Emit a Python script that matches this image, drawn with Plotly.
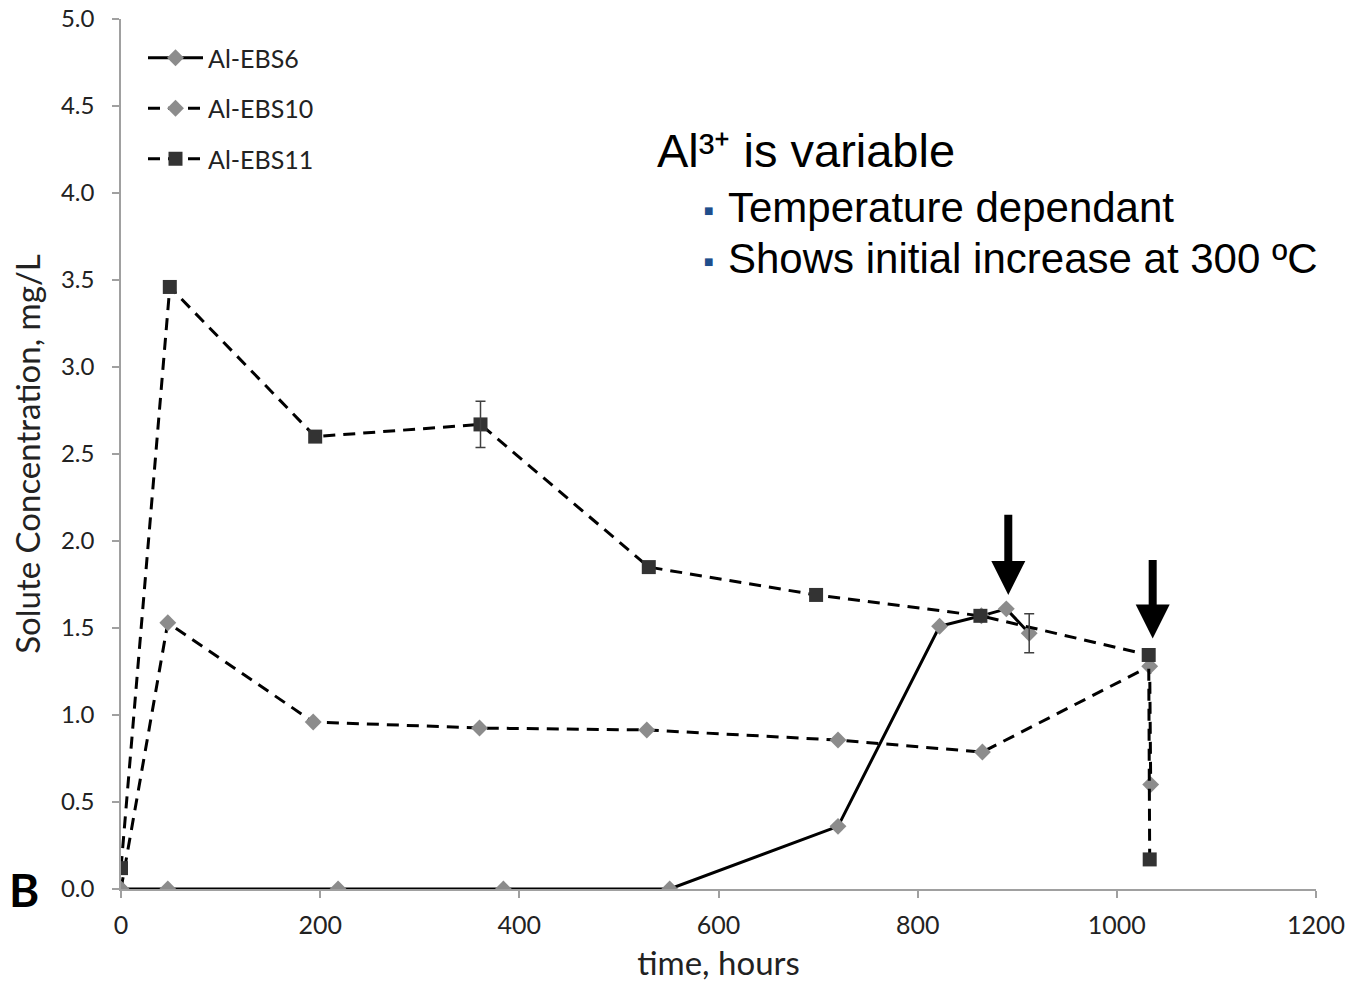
import plotly.graph_objects as go

# ---- data ----
ebs6_x = [0, 47, 218, 384, 551, 720, 822, 864, 889, 912]
ebs6_y = [0.0, 0.0, 0.0, 0.0, 0.0, 0.36, 1.51, 1.57, 1.61, 1.47]

ebs10_x = [0, 47, 193, 360, 528, 720, 865, 1033, 1034]
ebs10_y = [0.0, 1.53, 0.96, 0.925, 0.914, 0.856, 0.787, 1.28, 0.60]

ebs11_x = [0, 49, 195, 361, 530, 698, 863, 1032, 1033]
ebs11_y = [0.12, 3.46, 2.60, 2.67, 1.85, 1.69, 1.57, 1.345, 0.17]

# error bars (only points that have them)
err11_x = [361]
err11_y = [2.67]
err11_e = [0.133]
err6_x = [912]
err6_y = [1.47]
err6_e = [0.112]

# arrows: (x, tip y, tail y)
arrow_x = [891, 1036]
arrow_tip = [1.69, 1.44]
arrow_tail = [2.16, 1.90]

x_ticks = [0, 200, 400, 600, 800, 1000, 1200]
y_ticks = [0.0, 0.5, 1.0, 1.5, 2.0, 2.5, 3.0, 3.5, 4.0, 4.5, 5.0]

TICKFONT = "Lato, 'Open Sans', sans-serif"
TEXTFONT = "'Liberation Sans', Arial, sans-serif"

PL, PR, PT, PB = 121, 1316, 19, 889
PW, PH = PR - PL, PB - PT


def px(xp):
    return (xp - PL) / PW


def py(yp):
    return (PB - yp) / PH


fig = go.Figure()

fig.add_trace(go.Scatter(
    x=ebs6_x, y=ebs6_y, name="Al-EBS6", mode="lines+markers",
    line=dict(color="black", width=3),
    marker=dict(symbol="diamond", size=13, color="#8c8c8c"),
    legendgroup="a",
))
fig.add_trace(go.Scatter(
    x=ebs10_x, y=ebs10_y, name="Al-EBS10", mode="lines+markers",
    line=dict(color="black", width=3, dash="12px,8px"),
    marker=dict(symbol="diamond", size=13, color="#8c8c8c"),
    legendgroup="b",
))
fig.add_trace(go.Scatter(
    x=ebs11_x, y=ebs11_y, name="Al-EBS11", mode="lines+markers",
    line=dict(color="black", width=3, dash="12px,8px"),
    marker=dict(symbol="square", size=14, color="#333333"),
    legendgroup="c",
))
for ex, ey, ee in [(err11_x, err11_y, err11_e), (err6_x, err6_y, err6_e)]:
    fig.add_trace(go.Scatter(
        x=ex, y=ey, mode="markers", showlegend=False, hoverinfo="skip",
        marker=dict(size=1, opacity=0),
        error_y=dict(type="data", array=ee, visible=True, color="#404040",
                     thickness=1.5, width=5),
    ))

for ax_, tip, tail in zip(arrow_x, arrow_tip, arrow_tail):
    fig.add_annotation(
        x=ax_, y=tip, ax=ax_, ay=tail, xref="x", yref="y", axref="x", ayref="y",
        text="", showarrow=True, arrowhead=2, arrowsize=0.85, arrowwidth=8,
        arrowcolor="black", standoff=0,
    )

# text block
fig.add_annotation(
    x=px(655), y=py(151), xref="paper", yref="paper",
    xanchor="left", yanchor="middle", showarrow=False,
    text="Al³⁺ is variable",
    font=dict(family=TEXTFONT, size=47, color="black"),
)
bullet_lines = ["Temperature dependant", "Shows initial increase at 300 ºC"]
bullet_yp = [207, 258]
for txt, yp in zip(bullet_lines, bullet_yp):
    fig.add_annotation(
        x=px(726), y=py(yp), xref="paper", yref="paper",
        xanchor="left", yanchor="middle", showarrow=False, text=txt,
        font=dict(family=TEXTFONT, size=42, color="black"),
    )
    fig.add_annotation(
        x=px(708.5), y=py(yp + 3), xref="paper", yref="paper",
        xanchor="center", yanchor="middle", showarrow=False, text="■",
        font=dict(family="DejaVu Sans", size=10, color="#1f4e8c"),
    )

# panel label
fig.add_annotation(
    x=px(24), y=py(889), xref="paper", yref="paper",
    xanchor="center", yanchor="middle", showarrow=False, text="<b>B</b>",
    font=dict(family=TICKFONT, size=46, color="black"),
)

fig.update_layout(
    width=1355, height=983,
    margin=dict(l=PL, r=1355 - PR, t=PT, b=983 - PB),
    plot_bgcolor="white", paper_bgcolor="white",
    showlegend=True,
    legend=dict(
        x=px(143), y=py(35), xanchor="left", yanchor="top",
        font=dict(family=TICKFONT, size=25, color="#222222"),
        bgcolor="rgba(0,0,0,0)", traceorder="grouped", tracegroupgap=15,
        itemwidth=55,
    ),
    xaxis=dict(
        range=[0, 1200], tickvals=x_ticks, showgrid=False, zeroline=False,
        showline=True, linecolor="#a0a0a0", linewidth=1.5, automargin=False,
        ticks="outside", ticklen=7, tickcolor="#a0a0a0", tickwidth=1.5,
        tickfont=dict(family=TICKFONT, size=25, color="#222222"),
        ticklabelstandoff=6,
        title=dict(text="time, hours", standoff=14,
                   font=dict(family=TICKFONT, size=33, color="#222222")),
    ),
    yaxis=dict(
        range=[0, 5], tickvals=y_ticks, tickformat=".1f", showgrid=False,
        zeroline=False, showline=True, linecolor="#a0a0a0", linewidth=1.5,
        automargin=False,
        ticks="outside", ticklen=7, tickcolor="#a0a0a0", tickwidth=1.5,
        tickfont=dict(family=TICKFONT, size=24, color="#222222"),
        ticklabelstandoff=13,
        title=dict(text="Solute Concentration, mg/L", standoff=10,
                   font=dict(family=TICKFONT, size=33, color="#222222")),
    ),
)

fig.write_html("out.html")
